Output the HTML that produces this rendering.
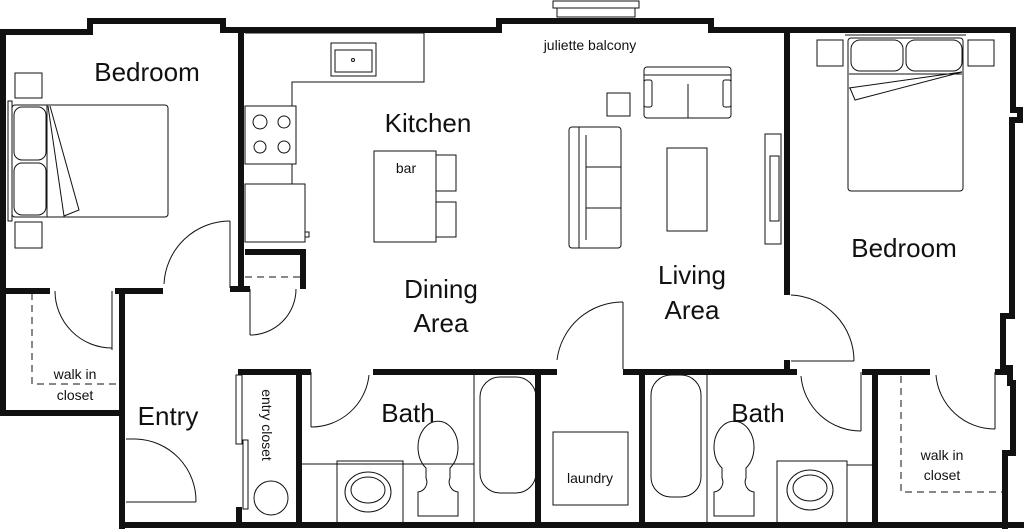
<!DOCTYPE html><html><head><style>body{margin:0;background:#fff}svg{display:block}text{font-family:"Liberation Sans",sans-serif;fill:#111}</style></head><body>
<svg width="1024" height="529" viewBox="0 0 1024 529" xmlns="http://www.w3.org/2000/svg">
<g fill="none" stroke="#111" stroke-width="6" stroke-linejoin="miter">
<polyline points="3,415 3,32 90,32 90,21 223,21 223,30 499,30 499,21 711,21 711,30 1013,30 1013,110 1020,110 1020,120 1012,120 1012,316 1003,316 1003,368 1010,368 1010,383 1013,383 1013,453 1005,453 1005,529"/>
<polyline points="0,413 122,413"/>
<polyline points="122,529 122,291 163,291"/>
<line x1="0" y1="291" x2="50" y2="291"/>
<line x1="115" y1="291" x2="125" y2="291"/>
<line x1="241" y1="30" x2="241" y2="289"/>
<line x1="230" y1="289" x2="250" y2="289"/>
<polyline points="245,252 303,252 303,289"/>
<line x1="120" y1="525" x2="1024" y2="525"/>
<line x1="238" y1="372" x2="311" y2="372"/>
<line x1="373" y1="372" x2="557" y2="372"/>
<line x1="623" y1="372" x2="797" y2="372"/>
<line x1="862" y1="372" x2="930" y2="372"/>
<line x1="995" y1="372" x2="1012" y2="372"/>
<line x1="299" y1="372" x2="299" y2="525"/>
<line x1="239" y1="507" x2="239" y2="525"/>
<line x1="538" y1="372" x2="538" y2="525"/>
<line x1="642" y1="372" x2="642" y2="525"/>
<line x1="875" y1="372" x2="875" y2="525"/>
<line x1="787" y1="30" x2="787" y2="295"/>
<line x1="787" y1="360" x2="787" y2="372"/>
</g>
<g fill="none" stroke="#111" stroke-width="1">
<line x1="112" y1="291" x2="112" y2="350"/><path d="M55,291 A57,57 0 0 0 112,348"/>
<line x1="230" y1="221" x2="230" y2="288"/><path d="M164,284 A66,66 0 0 1 230,221"/>
<line x1="250" y1="289" x2="250" y2="335"/><path d="M250,335 A46,46 0 0 0 296,289"/>
<line x1="311" y1="372" x2="311" y2="427"/><path d="M311,427 A58,58 0 0 0 369,375"/>
<line x1="623" y1="302" x2="623" y2="369"/><path d="M557,360 A66,66 0 0 1 623,302"/>
<line x1="791" y1="361" x2="854" y2="361"/><path d="M791,295 A66,66 0 0 1 854,361"/>
<line x1="861" y1="372" x2="861" y2="431"/><path d="M801,376 A60,60 0 0 0 861,431"/>
<line x1="995" y1="372" x2="995" y2="429"/><path d="M936,375 A59,59 0 0 0 995,429"/>
<line x1="126" y1="502" x2="196" y2="502"/><path d="M136,439 A62,62 0 0 1 196,502"/>
<line x1="126" y1="439" x2="136" y2="439"/>
<g stroke-dasharray="7,5"><polyline points="32,293 32,384 120,384"/><line x1="245" y1="277" x2="300" y2="277"/><polyline points="901,376 901,492 1003,492"/></g>
<polyline points="245,33 424,33 424,82 292,82 292,106"/>
<rect x="331" y="43" width="45" height="33"/><rect x="335" y="50" width="37" height="22"/><circle cx="353" cy="60" r="1.5"/>
<rect x="245" y="106" width="51" height="58"/>
<circle cx="260" cy="122" r="7"/><circle cx="284" cy="122" r="6"/><circle cx="260" cy="147" r="6"/><circle cx="284" cy="147" r="6"/>
<line x1="292" y1="164" x2="292" y2="184"/>
<rect x="245" y="184" width="60" height="58"/><rect x="305" y="232" width="4" height="5"/>
<rect x="374" y="151" width="62" height="91"/>
<rect x="436" y="155" width="20" height="36"/><rect x="436" y="202" width="20" height="35"/>
<rect x="15" y="73" width="27" height="25"/><rect x="15" y="222" width="27" height="26"/>
<rect x="8" y="101" width="4" height="120"/>
<rect x="12" y="105" width="156" height="112" rx="3"/>
<rect x="14" y="107" width="32" height="53" rx="8"/><rect x="14" y="163" width="32" height="52" rx="8"/>
<line x1="47" y1="105" x2="47" y2="217"/><polyline points="48,106 64,216 79,210 50,106"/>
<rect x="236" y="375" width="6" height="69"/><rect x="243" y="440" width="5" height="69"/>
<circle cx="271" cy="498" r="17"/>
<line x1="301" y1="464" x2="474" y2="464"/><line x1="474" y1="372" x2="474" y2="525"/>
<rect x="337" y="461" width="66" height="64"/>
<ellipse cx="368" cy="492" rx="23" ry="20"/><ellipse cx="368" cy="490" rx="17" ry="13"/>
<path d="M426,468 A20,26 0 1 1 450,468 L450,478 A10,10 0 0 0 458,492 L458,516 L418,516 L418,492 A10,10 0 0 0 426,478 Z"/>
<rect x="480" y="377" width="56" height="116" rx="20"/>
<rect x="553" y="432" width="75" height="73"/>
<rect x="651" y="375" width="50" height="122" rx="20"/>
<line x1="707" y1="372" x2="707" y2="525"/>
<path d="M722,468 A20,26 0 1 1 746,468 L746,478 A10,10 0 0 0 754,492 L754,516 L714,516 L714,492 A10,10 0 0 0 722,478 Z"/>
<rect x="777" y="461" width="70" height="64"/>
<ellipse cx="810" cy="490" rx="23" ry="20"/><ellipse cx="810" cy="488" rx="17" ry="13"/>
<line x1="847" y1="465" x2="873" y2="465"/>
<rect x="553" y="1" width="86" height="7"/><rect x="557" y="8" width="78" height="9"/>
<rect x="644" y="67" width="87" height="51" rx="3"/><line x1="644" y1="75" x2="731" y2="75"/><line x1="688" y1="84" x2="688" y2="118"/>
<rect x="644" y="80" width="8" height="27" rx="2"/><rect x="723" y="80" width="8" height="27" rx="2"/>
<rect x="607" y="93" width="23" height="23"/>
<rect x="569" y="127" width="52" height="121" rx="3"/><line x1="579" y1="127" x2="579" y2="248"/>
<line x1="586" y1="167" x2="621" y2="167"/><line x1="586" y1="208" x2="621" y2="208"/><line x1="586" y1="135" x2="586" y2="240"/>
<rect x="667" y="148" width="40" height="83"/>
<rect x="765" y="134" width="16" height="110"/><rect x="770" y="156" width="9" height="65"/>
<line x1="845" y1="35" x2="966" y2="35"/>
<rect x="848" y="38" width="115" height="153" rx="3"/>
<rect x="851" y="40" width="52" height="31" rx="9"/><rect x="906" y="40" width="56" height="31" rx="9"/>
<rect x="817" y="40" width="26" height="26"/><rect x="968" y="40" width="26" height="26"/>
<polyline points="849,88 962,72 855,100 850,88"/><line x1="849" y1="74" x2="962" y2="74"/>
</g>
<g font-size="26" text-anchor="middle">
<text x="147" y="81">Bedroom</text>
<text x="428" y="132">Kitchen</text>
<text x="441" y="298">Dining</text>
<text x="441" y="332">Area</text>
<text x="168" y="425">Entry</text>
<text x="408" y="422">Bath</text>
<text x="692" y="284">Living</text>
<text x="692" y="319">Area</text>
<text x="904" y="257">Bedroom</text>
<text x="758" y="422">Bath</text>
</g>
<g font-size="14" text-anchor="middle">
<text x="406" y="173">bar</text>
<text x="590" y="50">juliette balcony</text>
<text x="75" y="379">walk in</text><text x="75" y="400">closet</text>
<text x="590" y="483">laundry</text>
<text x="942" y="460">walk in</text><text x="942" y="480">closet</text>
<text transform="translate(262,425) rotate(90)">entry closet</text>
</g>
</svg></body></html>
